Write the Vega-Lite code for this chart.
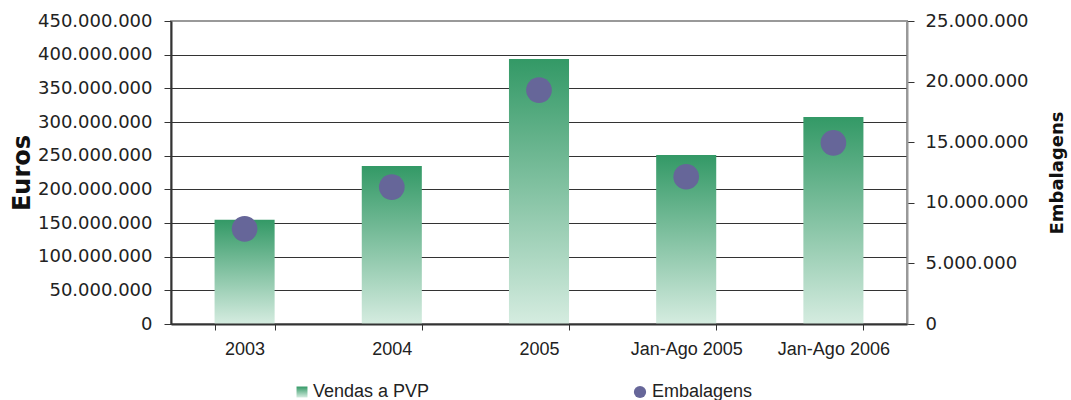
{
  "$schema": "https://vega.github.io/schema/vega-lite/v6.json",
  "width": 736,
  "height": 303,
  "autosize": {"type": "none"},
  "padding": {"left": 171, "top": 21, "right": 164, "bottom": 76},
  "background": "white",
  "config": {
    "locale": {"number": {"decimal": ",", "thousands": ".", "grouping": [3], "currency": ["", " €"]}},
    "view": {"stroke": "#999", "strokeWidth": 2},
    "legend": {"padding": 0, "titlePadding": 0}
  },
  "data": {
    "values": [
      {"periodo": "2003", "vendas": 155000000, "embalagens": 7850000},
      {"periodo": "2004", "vendas": 234500000, "embalagens": 11300000},
      {"periodo": "2005", "vendas": 393500000, "embalagens": 19300000},
      {"periodo": "Jan-Ago 2005", "vendas": 251000000, "embalagens": 12150000},
      {"periodo": "Jan-Ago 2006", "vendas": 307500000, "embalagens": 14950000}
    ]
  },
  "encoding": {
    "x": {
      "field": "periodo",
      "type": "nominal",
      "sort": null,
      "scale": {"paddingInner": 0.592, "paddingOuter": 0.296},
      "axis": {
        "title": null,
        "labelAngle": 0,
        "tickBand": "extent",
        "tickSize": 6,
        "tickColor": "#333",
        "domainColor": "#333",
        "domainWidth": 2,
        "labelFont": "Liberation Sans",
        "labelFontSize": 18,
        "labelColor": "#222",
        "labelPadding": 10,
        "grid": false,
        "zindex": 1
      }
    }
  },
  "layer": [
    {
      "mark": {
        "type": "bar",
        "strokeWidth": 0,
        "fill": {"gradient": "linear", "x1": 0, "y1": 0, "x2": 0, "y2": 1,
                 "stops": [{"offset": 0, "color": "#339966"}, {"offset": 1, "color": "#d5ece0"}]}
      },
      "encoding": {
        "y": {
          "field": "vendas",
          "type": "quantitative",
          "scale": {"domain": [0, 450000000], "nice": false},
          "axis": {
            "orient": "left",
            "values": [0, 50000000, 100000000, 150000000, 200000000, 250000000, 300000000, 350000000, 400000000, 450000000],
            "format": ",.0f",
            "grid": true,
            "gridColor": {"condition": {"test": "datum.value >= 450000000", "value": "#999"}, "value": "#333"},
            "gridWidth": 1,
            "tickSize": 7,
            "tickColor": "#333",
            "domainColor": "#333",
            "domainWidth": 2,
            "labelFont": "DejaVu Sans",
            "labelFontSize": 18,
            "labelColor": "#222",
            "labelPadding": 12,
            "title": "Euros",
            "titleFont": "DejaVu Sans",
            "titleFontWeight": "bold",
            "titleFontSize": 24,
            "titleColor": "#111",
            "titlePadding": 3
          }
        },
        "opacity": {
          "datum": "Vendas a PVP",
          "type": "ordinal",
          "scale": {"range": [1]},
          "legend": {
            "orient": "none",
            "legendX": 122,
            "legendY": 362,
            "title": null,
            "symbolType": "square",
            "symbolSize": 120,
            "symbolStrokeWidth": 0,
            "labelFont": "Liberation Sans",
            "labelFontSize": 18,
            "labelColor": "#222",
            "labelOffset": 2,
            "encode": {
              "symbols": {
                "update": {
                  "fill": {"value": {"gradient": "linear", "x1": 0, "y1": 0, "x2": 0, "y2": 1,
                                     "stops": [{"offset": 0, "color": "#339966"}, {"offset": 1, "color": "#d5ece0"}]}},
                  "opacity": {"value": 1}
                }
              }
            }
          }
        }
      }
    },
    {
      "mark": {"type": "point", "filled": true, "size": 660, "opacity": 1, "strokeWidth": 0},
      "encoding": {
        "y": {
          "field": "embalagens",
          "type": "quantitative",
          "scale": {"domain": [0, 25000000], "nice": false},
          "axis": {
            "orient": "right",
            "values": [0, 5000000, 10000000, 15000000, 20000000, 25000000],
            "format": ",.0f",
            "grid": false,
            "tickSize": 7,
            "tickColor": "#333",
            "domainColor": "#999",
            "domainWidth": 2,
            "labelFont": "DejaVu Sans",
            "labelFontSize": 18,
            "labelColor": "#222",
            "labelPadding": 11,
            "title": "Embalagens",
            "titleFont": "DejaVu Sans",
            "titleFontWeight": "bold",
            "titleFontSize": 18,
            "titleColor": "#111",
            "titleAngle": 270,
            "titleBaseline": "top",
            "titlePadding": 20
          }
        },
        "color": {
          "datum": "Embalagens",
          "scale": {"range": ["#666699"]},
          "legend": {
            "orient": "none",
            "legendX": 460,
            "legendY": 362,
            "title": null,
            "symbolType": "circle",
            "symbolSize": 150,
            "symbolStrokeWidth": 0,
            "labelFont": "Liberation Sans",
            "labelFontSize": 18,
            "labelColor": "#222",
            "labelOffset": 3
          }
        }
      }
    }
  ],
  "resolve": {"scale": {"y": "independent"}}
}
